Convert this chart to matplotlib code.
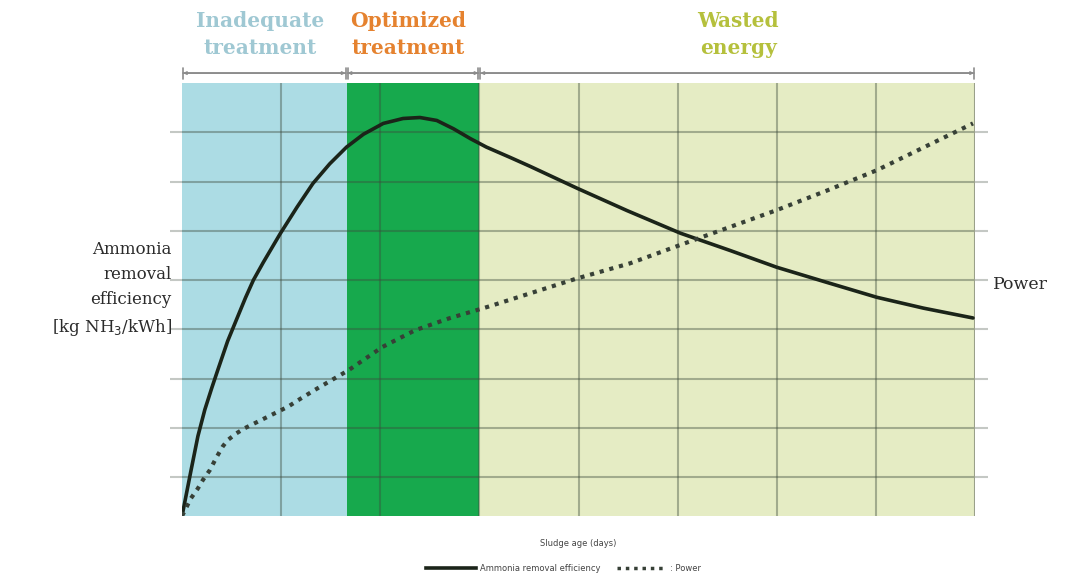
import numpy as np
import matplotlib
matplotlib.use("Agg")
import matplotlib.pyplot as plt
from matplotlib.lines import Line2D

# ── data ──────────────────────────────────────────────────────────────────────
eff_x = [0.0, 0.09, 0.16, 0.23, 0.30, 0.36, 0.46, 0.56, 0.64, 0.72,
         0.82, 0.99, 1.16, 1.32, 1.49, 1.66, 1.83, 2.03, 2.23, 2.40, 2.57,
         2.74, 2.91, 3.07, 3.31, 3.51, 3.99, 4.49, 5.03, 5.53, 6.0, 6.51,
         7.01, 7.48, 7.98]
eff_y = [0.0, 0.92, 1.62, 2.16, 2.60, 2.96, 3.55, 4.04, 4.43, 4.79,
         5.15, 5.73, 6.27, 6.75, 7.15, 7.49, 7.75, 7.97, 8.07, 8.09, 8.03,
         7.86, 7.66, 7.49, 7.28, 7.10, 6.65, 6.20, 5.74, 5.39, 5.05, 4.74,
         4.44, 4.22, 4.02]

pow_x = [0.0, 0.04, 0.09, 0.16, 0.21, 0.28, 0.35, 0.41, 0.46, 0.55, 0.63,
         0.73, 0.90, 1.07, 1.17, 1.34, 1.68, 2.02, 2.35, 2.69, 3.09, 3.98,
         4.52, 5.16, 6.0, 6.51, 7.01, 7.98]
pow_y = [0.0, 0.16, 0.36, 0.56, 0.73, 0.93, 1.20, 1.41, 1.54, 1.68, 1.78,
         1.88, 2.05, 2.22, 2.35, 2.56, 2.96, 3.43, 3.77, 4.01, 4.25, 4.82,
         5.13, 5.60, 6.21, 6.61, 7.02, 7.97]

zones       = ["Inadequate\ntreatment", "Optimized\ntreatment", "Wasted\nenergy"]
zone_edges  = [0.0, 1.66, 3.0, 8.0]
zone_colors = ["#acdce4", "#17a94d", "#e5ecc4"]
zone_text   = ["#9fc8d3", "#e5822f", "#b5c03c"]

# ── figure ────────────────────────────────────────────────────────────────────
fig = plt.figure(figsize=(10.74, 5.79), dpi=100)
ax = fig.add_axes([0.1695, 0.1088, 0.7383, 0.7478])

ax.set_xlim(0, 8)
ax.set_ylim(0, 8.79)

for i in range(3):
    ax.axvspan(zone_edges[i], zone_edges[i + 1], color=zone_colors[i], lw=0, zorder=0)

grid_kw = dict(color="#3c4a3c", alpha=0.4, lw=1.5, zorder=1)
for gx in range(1, 8):
    ax.axvline(gx, **grid_kw)
for gy in np.arange(0.79, 8.79, 1.0):
    ax.axhline(gy, **grid_kw)
ax.axvline(8, color="#9aa08a", lw=1.5, zorder=1)

ax.set_yticks(np.arange(0.79, 8.79, 1.0))
ax.set_xticks([])
ax.tick_params(axis="y", left=True, right=True, labelleft=False,
               length=9, width=1.5, color="#c4c8c4")
for s in ax.spines.values():
    s.set_visible(False)

ax.plot(eff_x, eff_y, color="#1b2419", lw=2.6, zorder=3,
        solid_capstyle="round", solid_joinstyle="round")
ax.plot(pow_x, pow_y, color="#374037", lw=3, ls=(0, (1, 1.4)), zorder=3)

# ── zone headers and brackets ─────────────────────────────────────────────────
for i in range(3):
    x0, x1 = zone_edges[i], zone_edges[i + 1]
    for style in ("|-|", "<|-|>"):
        ax.annotate("", xy=(x0 + 0.01, 1.023), xytext=(x1 - 0.01, 1.023),
                    xycoords=("data", "axes fraction"),
                    textcoords=("data", "axes fraction"),
                    arrowprops=dict(arrowstyle=style, color="#8c8c8c", lw=1.2,
                                    shrinkA=0, shrinkB=0, mutation_scale=4),
                    annotation_clip=False)

header_x = [0.79, 2.28, 5.61]
for i in range(3):
    ax.text(header_x[i], 1.112, zones[i], transform=ax.get_xaxis_transform(),
            ha="center", va="center", fontsize=14.5, fontweight="bold",
            family="DejaVu Serif", color=zone_text[i], linespacing=1.4)

# ── axis labels ───────────────────────────────────────────────────────────────
fig.text(0.160, 0.500, "Ammonia\nremoval\nefficiency\n[kg NH$_3$/kWh]",
         ha="right", va="center", fontsize=12, family="DejaVu Serif",
         color="#2b2b2b", linespacing=1.6)
fig.text(0.925, 0.508, "Power", ha="left", va="center", fontsize=12.5,
         family="DejaVu Serif", color="#2b2b2b")

fig.text(0.538, 0.062, "Sludge age (days)", ha="center", va="center",
         fontsize=6, color="#444444")

handles = [Line2D([], [], color="#1b2419", lw=2.6),
           Line2D([], [], color="#374037", lw=2.5, ls=(0, (1, 1.4)))]
fig.legend(handles, ["Ammonia removal efficiency", ": Power"],
           loc="center", bbox_to_anchor=(0.525, 0.018), ncol=2, frameon=False,
           fontsize=6, handlelength=6, columnspacing=2, handletextpad=0.4,
           labelcolor="#444444")

fig.savefig("out.png", dpi=100)
